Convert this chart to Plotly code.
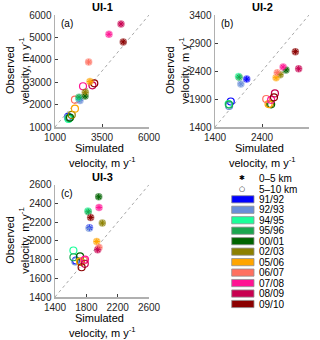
import plotly.graph_objects as go

W, H = 320, 340

seasons = ["91/92", "92/93", "94/95", "95/96", "00/01", "02/03", "05/06", "06/07", "07/08", "08/09", "09/10"]
season_colors = ["#0000FF", "#6A8FD8", "#1BFF9A", "#1AA64F", "#006400", "#8C8000",
                 "#FFA500", "#FF7060", "#FF1493", "#C80050", "#8B0000"]

# UI-1 (a)
a_near_sim = [2290, 2330, 2260, 2280, 2600, 2610, 2860, 2790, 3870, 4510, 4630]
a_near_obs = [2250, 2180, 2290, 2330, 2380, 2550, 3030, 3900, 5140, 5600, 4800]
a_far_sim = [1700, 1690, 1720, 1760, 1800, 1890, 2060, 2060, 2490, 2990, 3090]
a_far_obs = [1450, 1420, 1360, 1400, 1420, 1540, 1820, 2220, 2820, 2860, 2950]

# UI-2 (b)
b_near_sim = [2075, 1950, 1900, 1915, 2910, 2785, 2700, 2725, 2850, 3180, 3110]
b_near_obs = [2255, 2170, 2300, 2290, 2420, 2335, 2280, 2370, 2470, 2440, 2745]
b_far_sim = [1735, 1700, 1690, 1700, 2595, 2570, 2540, 2490, 2595, 2675, 2655]
b_far_obs = [1855, 1775, 1810, 1800, 1805, 1810, 1810, 1900, 1885, 2000, 1930]

# UI-3 (c)
c_near_sim = [1840, 1835, 1820, 1825, 1958, 2004, 1933, 1962, 1962, 1945, 1855]
c_near_obs = [2140, 2135, 2320, 2310, 2470, 2190, 1993, 1930, 2357, 1905, 2250]
c_far_sim = [1668, 1660, 1635, 1635, 1720, 1730, 1719, 1770, 1783, 1780, 1740]
c_far_obs = [1790, 1780, 1897, 1825, 1835, 1775, 1780, 1790, 1800, 1755, 1718]

panels = [
    dict(title="UI-1", label="(a)", rng=[1000, 6000], yt=[1000, 2000, 3000, 4000, 5000, 6000],
         xt=[1000, 3500, 6000], near=(a_near_sim, a_near_obs), far=(a_far_sim, a_far_obs),
         px=(55, 149), py=(15, 127)),
    dict(title="UI-2", label="(b)", rng=[1400, 3400], yt=[1400, 1900, 2400, 2900, 3400],
         xt=[1400, 2400, 3400], near=(b_near_sim, b_near_obs), far=(b_far_sim, b_far_obs),
         px=(215, 309), py=(15, 127)),
    dict(title="UI-3", label="(c)", rng=[1400, 2600], yt=[1400, 1600, 1800, 2000, 2200, 2400, 2600],
         xt=[1400, 1800, 2200, 2600], near=(c_near_sim, c_near_obs), far=(c_far_sim, c_far_obs),
         px=(55, 149), py=(184.7, 297)),
]

FONT = "Liberation Sans"
fig = go.Figure()
annotations = []
shapes = []
layout_axes = {}


def ann(text, x, y, size=11, xanchor="center", yanchor="middle", family=FONT, angle=0):
    annotations.append(dict(text=text, x=x / W, y=1 - y / H, xref="paper", yref="paper",
                            xanchor=xanchor, yanchor=yanchor, showarrow=False, textangle=angle,
                            font=dict(family=family, size=size, color="#000")))


for i, p in enumerate(panels):
    n = "" if i == 0 else str(i + 1)
    xa, ya = "x" + n, "y" + n
    r = p["rng"]
    fig.add_trace(go.Scatter(x=r, y=r, mode="lines", xaxis=xa, yaxis=ya, showlegend=False,
                             line=dict(color="#A8A8A8", width=1, dash="dot"), hoverinfo="skip"))
    fig.add_trace(go.Scatter(x=p["far"][0], y=p["far"][1], mode="markers", xaxis=xa, yaxis=ya,
                             showlegend=False,
                             marker=dict(symbol="circle-open", size=7, color=season_colors,
                                         line=dict(width=1.2))))
    fig.add_trace(go.Scatter(x=p["near"][0], y=p["near"][1], mode="markers", xaxis=xa, yaxis=ya,
                             showlegend=False, opacity=0.55,
                             marker=dict(symbol="circle", size=7.5, color=season_colors)))
    fig.add_trace(go.Scatter(x=p["near"][0], y=p["near"][1], mode="markers", xaxis=xa, yaxis=ya,
                             showlegend=False,
                             marker=dict(symbol="asterisk-open", size=5, color=season_colors,
                                         line=dict(width=1))))
    x0, x1 = p["px"]
    y0, y1 = p["py"]
    common = dict(range=r, showgrid=False, zeroline=False, showline=True, linecolor="#B0B0B0",
                  linewidth=1.5, ticks="inside", ticklen=3, tickcolor="#404040",
                  tickfont=dict(family=FONT, size=10, color="#262626"), automargin=False)
    layout_axes["xaxis" + n] = dict(common, domain=[x0 / W, x1 / W], anchor=ya,
                                    tickmode="array", tickvals=p["xt"])
    layout_axes["yaxis" + n] = dict(common, domain=[1 - y1 / H, 1 - y0 / H], anchor=xa,
                                    tickmode="array", tickvals=p["yt"])
    cx = (x0 + x1) / 2
    cy = (y0 + y1) / 2
    ann("<b>" + p["title"] + "</b>", cx, y0 - 8, size=11)
    ann(p["label"], x0 + 4, y0 + 9, size=10, xanchor="left")
    ann("Simulated", cx - 3, y1 + 20.5, size=11)
    ann("velocity, m y<sup>-1</sup>", cx, y1 + 35, size=11)
    ann("Observed", x0 - 45, cy - 1, size=11, angle=-90)
    ann("velocity, m y<sup>-1</sup>", x0 - 31, cy, size=11, angle=-90)

# legend (manual)
lx_sym, lx_box0, lx_box1, lx_txt = 241.7, 231.7, 254, 256.5
legend_markers = ["0–5 km", "5–10 km"]
legend_symbols = ["✱", "○"]
for k, (t, s) in enumerate(zip(legend_markers, legend_symbols)):
    yy = 178.3 + k * 10.7
    ann(s, lx_sym, yy, size=7, family="DejaVu Sans")
    ann(t, lx_txt, yy, size=10, xanchor="left")
for k, (s, c) in enumerate(zip(seasons, season_colors)):
    yc = 199.3 + k * 10.47
    shapes.append(dict(type="rect", xref="paper", yref="paper", x0=lx_box0 / W, x1=lx_box1 / W,
                       y0=1 - (yc - 3.6) / H, y1=1 - (yc + 3.6) / H, fillcolor=c,
                       line=dict(color="#909090", width=0.8)))
    ann(s, lx_txt, yc, size=10, xanchor="left")

fig.update_layout(width=W, height=H, margin=dict(l=0, r=0, t=0, b=0, pad=0, autoexpand=False),
                  paper_bgcolor="white", plot_bgcolor="white", hovermode=False,
                  annotations=annotations, shapes=shapes, showlegend=False, **layout_axes)
fig.write_html("out.html", config={"displayModeBar": False, "staticPlot": True},
               post_script="document.body.style.margin='0px';document.body.style.padding='0px';"
                           "document.documentElement.style.overflow='hidden';")
